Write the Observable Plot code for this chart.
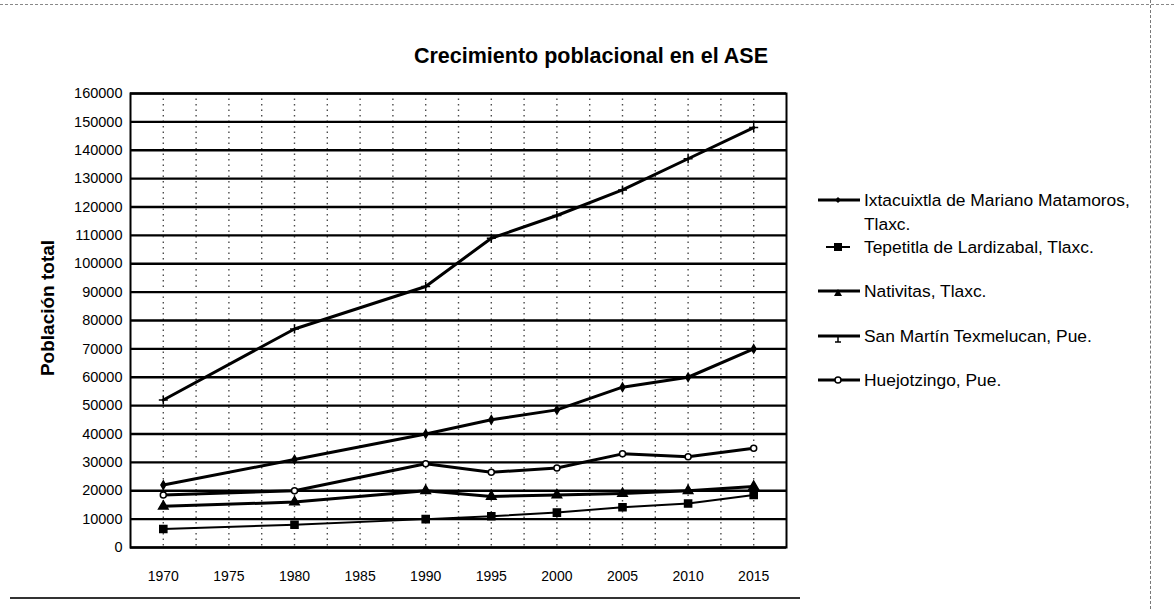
<!DOCTYPE html>
<html>
<head>
<meta charset="utf-8">
<script src="https://cdn.jsdelivr.net/npm/d3@7"></script>
<script src="https://cdn.jsdelivr.net/npm/@observablehq/plot@0.6"></script>
<style>
  html, body { margin: 0; padding: 0; background: #fff; }
  #page { position: relative; width: 1174px; height: 609px; overflow: hidden; font-family: "Liberation Sans", Arial, sans-serif; color: #000; }
  #chart { position: absolute; left: 0; top: 0; }
  #title { position: absolute; left: 380px; width: 422px; top: 44px; text-align: center; font-weight: bold; font-size: 21.5px; white-space: nowrap; }
  #ytitle { position: absolute; left: 48px; top: 308px; transform: translate(-50%, -50%) rotate(-90deg); font-weight: bold; font-size: 19px; white-space: nowrap; }
  .leg { position: absolute; left: 816px; font-size: 17.4px; line-height: 24px; display: flex; align-items: flex-start; white-space: nowrap; }
  .leg svg { flex: none; margin-top: 4px; }
  .leg span { margin-left: 2px; }
  .deco-top { position: absolute; left: 0; top: 4px; width: 1174px; border-top: 1px dashed #888; }
  .deco-bot { position: absolute; left: 10px; top: 597px; width: 790px; border-top: 2px solid #333; }
  .deco-right { position: absolute; left: 1150px; top: 0; height: 609px; border-left: 1px dashed #777; }
</style>
</head>
<body>
<div id="page">
  <div class="deco-top"></div>
  <div class="deco-bot"></div>
  <div class="deco-right"></div>
  <div id="chart"></div>
  <div id="title">Crecimiento poblacional en el ASE</div>
  <div id="ytitle">Población total</div>
  <div id="legend"></div>
</div>
<script>
// ---- data ----
const years = [1970, 1980, 1990, 1995, 2000, 2005, 2010, 2015];
const xTickLabels = [1970, 1975, 1980, 1985, 1990, 1995, 2000, 2005, 2010, 2015];
const yTickLabels = [0, 10000, 20000, 30000, 40000, 50000, 60000, 70000, 80000, 90000, 100000, 110000, 120000, 130000, 140000, 150000, 160000];

const seriesNames = [
  "Ixtacuixtla de Mariano Matamoros, Tlaxc.",
  "Tepetitla de Lardizabal, Tlaxc.",
  "Nativitas, Tlaxc.",
  "San Martín Texmelucan, Pue.",
  "Huejotzingo, Pue."
];
const ixtacuixtla = [22000, 31000, 40000, 45000, 48500, 56500, 60000, 70000];
const tepetitla   = [6500, 8000, 10000, 11000, 12300, 14200, 15500, 18500];
const nativitas   = [14500, 16000, 20000, 18000, 18500, 19000, 20000, 21500];
const sanMartin   = [52000, 77000, 92000, 109000, 117000, 126000, 137000, 148000];
const huejotzingo = [18500, 20000, 29500, 26500, 28000, 33000, 32000, 35000];
const seriesValues = [ixtacuixtla, tepetitla, nativitas, sanMartin, huejotzingo];

// ---- styles per series ----
const styles = [
  {symbol: "diamond", r: 2.5, fill: "#000", sw: 3},
  {symbol: "square", r: 4, fill: "#000", sw: 2},
  {symbol: "triangle", r: 3.5, fill: "#000", sw: 3},
  {symbol: "plus", r: 3, fill: "#000", sw: 3},
  {symbol: "circle", r: 3, fill: "#fff", sw: 3}
];

const data = [];
seriesNames.forEach((s, i) => years.forEach((y, j) => data.push({series: s, year: y, value: seriesValues[i][j]})));

const vgrid = d3.range(1970, 2016, 2.5);

const marks = [
  Plot.ruleX(vgrid, {stroke: "#000", strokeWidth: 1.4, strokeDasharray: "1.5,4", strokeOpacity: 0.7}),
  Plot.ruleY(yTickLabels, {stroke: "#000", strokeWidth: 2.4}),
  Plot.frame({stroke: "#000", strokeWidth: 2})
];
seriesNames.forEach((s, i) => {
  const d = data.filter(r => r.series === s);
  marks.push(Plot.line(d, {x: "year", y: "value", stroke: "#000", strokeWidth: styles[i].sw}));
  marks.push(Plot.dot(d, {x: "year", y: "value", symbol: () => styles[i].symbol, r: styles[i].r,
    fill: styles[i].symbol === "plus" ? "none" : styles[i].fill, stroke: "#000", strokeWidth: 1.5}));
});
marks.push(Plot.axisX({ticks: xTickLabels, tickSize: 0, tickPadding: 24, tickFormat: d => String(d), fontSize: 14, label: null}));
marks.push(Plot.axisY({ticks: yTickLabels, tickSize: 0, tickPadding: 8, tickFormat: d => String(d), fontSize: 14.5, label: null}));

const chart = Plot.plot({
  width: 790,
  height: 600,
  marginLeft: 130,
  marginRight: 4,
  marginTop: 93,
  marginBottom: 53,
  x: {domain: [1967.5, 2017.5]},
  y: {domain: [0, 160000]},
  style: {fontFamily: "'Liberation Sans', Arial, sans-serif", color: "#000", background: "transparent", overflow: "visible"},
  marks
});
document.getElementById("chart").appendChild(chart);

// ---- legend ----
const legendTops = [188, 235, 279, 324, 368];
const legend = document.getElementById("legend");
seriesNames.forEach((s, i) => {
  const div = document.createElement("div");
  div.className = "leg";
  div.style.top = legendTops[i] + "px";
  const sym = styles[i];
  let marker = "";
  const cx = 22, cy = 8;
  if (sym.symbol === "diamond") marker = `<path d="M${cx},${cy-3}L${cx+3},${cy}L${cx},${cy+3}L${cx-3},${cy}Z" fill="#000"/>`;
  if (sym.symbol === "square") marker = `<rect x="${cx-4}" y="${cy-4}" width="8" height="8" fill="#000"/>`;
  if (sym.symbol === "triangle") marker = `<path d="M${cx},${cy-2}L${cx+4},${cy+5}L${cx-4},${cy+5}Z" fill="#000"/>`;
  if (sym.symbol === "plus") marker = `<path d="M${cx},${cy}V${cy+6}M${cx-3},${cy+6}H${cx+3}" stroke="#000" stroke-width="1.5"/>`;
  if (sym.symbol === "circle") marker = `<circle cx="${cx}" cy="${cy}" r="3" fill="#fff" stroke="#000" stroke-width="1.5"/>`;
  const line = sym.symbol === "square"
    ? `<path d="M10,${cy}H34" stroke="#000" stroke-width="2"/>`
    : `<path d="M2,${cy}H44" stroke="#000" stroke-width="3"/>`;
  div.innerHTML = `<svg width="46" height="16">${line}${marker}</svg><span>${i === 0 ? "Ixtacuixtla de Mariano Matamoros,<br>Tlaxc." : s}</span>`;
  legend.appendChild(div);
});
</script>
</body>
</html>
